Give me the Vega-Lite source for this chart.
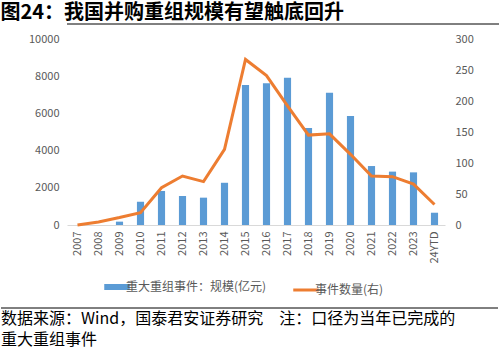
{
  "$schema": "https://vega.github.io/schema/vega-lite/v6.json",
  "padding": {"top": 2, "left": 0, "right": 0, "bottom": 0},
  "background": "white",
  "config": {"view": {"stroke": null}, "font": "Noto Sans CJK SC"},
  "title": {"text": "图24：我国并购重组规模有望触底回升", "anchor": "start", "frame": "bounds", "font": "Noto Sans CJK SC", "fontSize": 20, "fontWeight": "bold", "color": "black", "offset": 1},
  "spacing": 8,
  "vconcat": [
    {
      "width": 497, "height": 1,
      "data": {"values": [{"v": 1}]},
      "mark": {"type": "rule", "color": "black", "strokeWidth": 1},
      "encoding": {"y": {"field": "v", "type": "quantitative", "scale": {"domain": [0, 1]}, "axis": null}}
    },
    {
      "resolve": {"scale": {"color": "independent"}, "legend": {"color": "independent"}},
      "vconcat": [
        {
          "width": 378, "height": 186,
          "data": {"values": [
            {"year": "2007", "scale": 0, "count": 0},
            {"year": "2008", "scale": 0, "count": 5},
            {"year": "2009", "scale": 180, "count": 12},
            {"year": "2010", "scale": 1250, "count": 20},
            {"year": "2011", "scale": 1830, "count": 60},
            {"year": "2012", "scale": 1560, "count": 79},
            {"year": "2013", "scale": 1470, "count": 70},
            {"year": "2014", "scale": 2270, "count": 122},
            {"year": "2015", "scale": 7530, "count": 267},
            {"year": "2016", "scale": 7620, "count": 241},
            {"year": "2017", "scale": 7920, "count": 192},
            {"year": "2018", "scale": 5215, "count": 145},
            {"year": "2019", "scale": 7115, "count": 147},
            {"year": "2020", "scale": 5860, "count": 114},
            {"year": "2021", "scale": 3170, "count": 79},
            {"year": "2022", "scale": 2870, "count": 78},
            {"year": "2023", "scale": 2830, "count": 66},
            {"year": "24YTD", "scale": 660, "count": 33}
          ]},
          "encoding": {
            "x": {"field": "year", "type": "ordinal", "sort": null, "title": null,
              "scale": {"paddingInner": 0.66, "paddingOuter": 0.33},
              "axis": {"labelAngle": -90, "labelAlign": "right", "labelBaseline": "middle", "labelFontSize": 11, "labelColor": "#595959", "ticks": false, "domainColor": "#d9d9d9", "labelPadding": 6, "labelFont": "Noto Sans CJK SC"}}
          },
          "layer": [
            {
              "mark": {"type": "bar", "color": "#5B9BD5"},
              "encoding": {
                "y": {"field": "scale", "type": "quantitative", "title": null,
                  "scale": {"domain": [0, 10000]},
                  "axis": {"values": [0, 2000, 4000, 6000, 8000, 10000], "format": "d", "grid": false, "domain": false, "ticks": false, "labelFontSize": 11, "labelColor": "#595959", "labelPadding": 8, "minExtent": 66}},
                "color": {"datum": "重大重组事件：规模(亿元)", "type": "nominal",
                  "scale": {"domain": ["重大重组事件：规模(亿元)", "事件数量(右)"], "range": ["#5B9BD5", "#ED7D31"]},
                  "legend": {"orient": "none", "legendX": 44, "legendY": 242, "direction": "horizontal", "title": null, "padding": 0, "symbolType": "stroke", "symbolSize": 650, "symbolStrokeWidth": 6, "labelFontSize": 12, "labelColor": "#595959", "labelOffset": 3, "columnPadding": 20, "gridAlign": "all",
                    "encode": {"symbols": {"update": {"strokeWidth": {"signal": "datum.value === '事件数量(右)' ? 3 : 6"}}}}}}
              }
            },
            {
              "mark": {"type": "line", "color": "#ED7D31", "strokeWidth": 3},
              "encoding": {
                "y": {"field": "count", "type": "quantitative", "title": null,
                  "scale": {"domain": [0, 300]},
                  "axis": {"orient": "right", "values": [0, 50, 100, 150, 200, 250, 300], "grid": false, "domain": false, "ticks": false, "labelFontSize": 11, "labelColor": "#595959", "labelPadding": 10}},
                "color": {"datum": "事件数量(右)", "type": "nominal"}
              }
            }
          ],
          "resolve": {"scale": {"y": "independent"}}
        }
      ]
    },
    {
      "width": 431, "height": 42,
      "layer": [
        {
          "data": {"values": [{"a": 0, "b": 1, "v": 1}]},
          "mark": {"type": "rule", "color": "black", "strokeWidth": 1},
          "encoding": {
            "x": {"field": "a", "type": "quantitative", "axis": null, "scale": {"domain": [0, 1], "range": [-66, 431]}},
            "x2": {"field": "b"},
            "y": {"field": "v", "type": "quantitative", "scale": {"domain": [0, 1]}, "axis": null}
          }
        },
        {
          "data": {"values": [
            {"line": 1, "pos": 0, "text": "数据来源：Wind，国泰君安证券研究　注：口径为当年已完成的"},
            {"line": 2, "pos": 0, "text": "重大重组事件"}
          ]},
          "mark": {"type": "text", "align": "left", "baseline": "middle", "fontSize": 16, "letterSpacing": 3, "font": "Noto Sans CJK SC", "color": "black"},
          "encoding": {
            "x": {"field": "pos", "type": "quantitative", "axis": null},
            "y": {"field": "line", "type": "ordinal", "axis": null, "scale": {"type": "point", "padding": 0.5}},
            "text": {"field": "text"}
          }
        }
      ],
      "resolve": {"scale": {"y": "independent"}}
    }
  ]
}
